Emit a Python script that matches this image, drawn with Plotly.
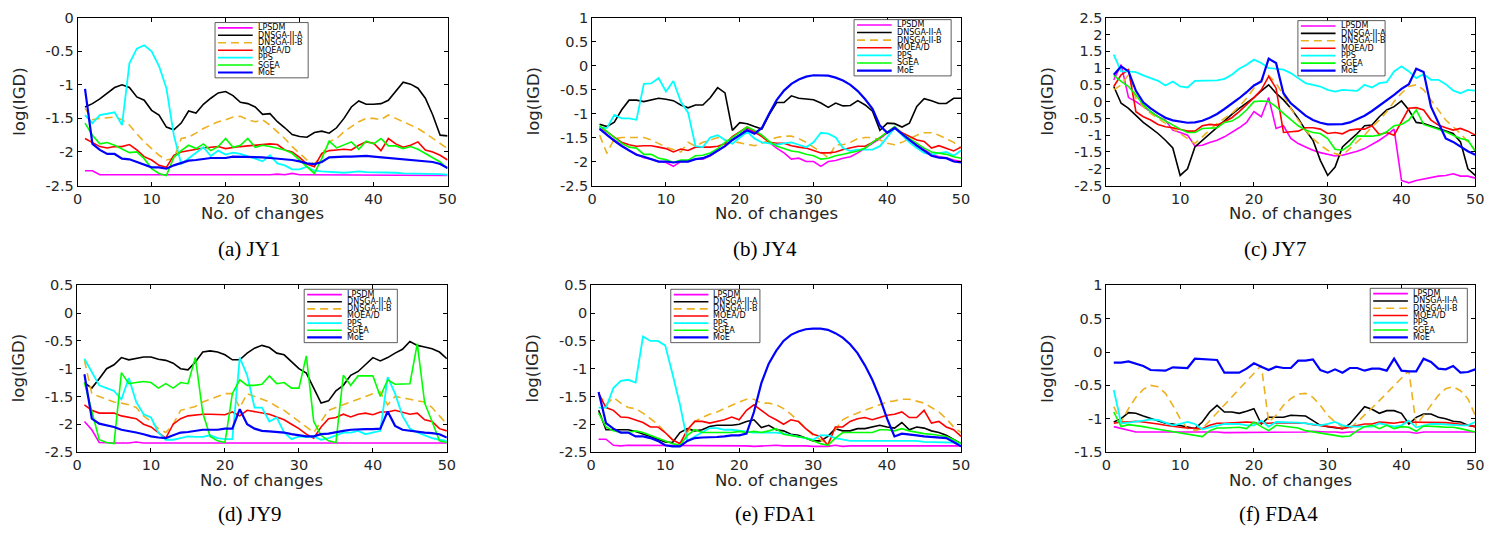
import plotly.graph_objects as go

# ---------------------------------------------------------------- data
X = list(range(1, 51))
SERIES = ["LPSDM", "DNSGA-II-A", "DNSGA-II-B", "MOEA/D", "PPS", "SGEA", "MoE"]
CAPTIONS = ["(a) JY1", "(b) JY4", "(c) JY7", "(d) JY9", "(e) FDA1", "(f) FDA4"]
X_TICKS = [0, 10, 20, 30, 40, 50]
Y_TICKS = [
    [-2.5, -2, -1.5, -1, -0.5, 0],
    [-2.5, -2, -1.5, -1, -0.5, 0, 0.5, 1],
    [-2.5, -2, -1.5, -1, -0.5, 0, 0.5, 1, 1.5, 2, 2.5],
    [-2.5, -2, -1.5, -1, -0.5, 0, 0.5],
    [-2.5, -2, -1.5, -1, -0.5, 0, 0.5],
    [-1.5, -1, -0.5, 0, 0.5, 1],
]

# JY1
JY1_LPSDM = [-2.28, -2.28, -2.34, -2.34, -2.34, -2.34, -2.34, -2.34, -2.34, -2.34,
             -2.34, -2.34, -2.35, -2.34, -2.34, -2.34, -2.34, -2.34, -2.34, -2.34,
             -2.34, -2.34, -2.34, -2.35, -2.34, -2.34, -2.33, -2.34, -2.32, -2.34,
             -2.34, -2.34, -2.34, -2.34, -2.34, -2.34, -2.34, -2.34, -2.34, -2.34,
             -2.34, -2.34, -2.34, -2.34, -2.34, -2.34, -2.34, -2.34, -2.35, -2.35]
JY1_DNSGA_A = [-1.33, -1.28, -1.21, -1.13, -1.04, -1.0, -1.04, -1.18, -1.23, -1.38,
               -1.45, -1.63, -1.67, -1.57, -1.39, -1.42, -1.29, -1.2, -1.12, -1.1,
               -1.16, -1.26, -1.28, -1.33, -1.44, -1.43, -1.55, -1.64, -1.74, -1.77,
               -1.78, -1.71, -1.69, -1.72, -1.64, -1.5, -1.33, -1.24, -1.29, -1.29,
               -1.28, -1.23, -1.1, -0.96, -0.99, -1.05, -1.2, -1.45, -1.75, -1.76]
JY1_DNSGA_B = [-1.35, -1.52, -1.5, -1.49, -1.48, -1.52, -1.6, -1.73, -1.85, -1.95,
               -2.05, -2.12, -2.1, -1.8, -1.78, -1.72, -1.65, -1.6, -1.55, -1.52,
               -1.48, -1.47, -1.52, -1.55, -1.52, -1.6, -1.7, -1.8, -1.92, -2.02,
               -2.12, -2.18, -2.05, -1.85, -1.8, -1.7, -1.62, -1.55, -1.5, -1.5,
               -1.52, -1.45, -1.5, -1.55, -1.6, -1.65, -1.72, -1.8, -1.88, -1.95]
JY1_MOEAD = [-1.8, -1.86, -1.92, -1.94, -1.92, -1.92, -1.89, -1.97, -2.07, -2.12,
             -2.2, -2.23, -2.05, -2.0, -1.98, -1.95, -1.94, -1.93, -1.92, -1.95,
             -1.93, -1.92, -1.91, -1.9, -1.9, -1.88, -1.89, -1.97, -2.0, -2.08,
             -2.18, -2.22, -2.02, -1.98, -1.97, -1.96, -1.97, -1.9, -1.85, -1.87,
             -1.98, -1.8, -1.88, -1.93, -1.9, -1.85, -1.97, -2.0, -2.05, -2.12]
JY1_PPS = [-1.45, -1.57, -1.45, -1.43, -1.41, -1.6, -0.68, -0.46, -0.41, -0.5,
           -0.72, -1.05, -1.75, -2.18, -2.1, -2.02, -1.93, -2.06, -1.98, -2.04,
           -2.01, -2.03, -2.06, -2.1, -2.14, -2.05, -2.17, -2.2, -2.26, -2.26,
           -2.22, -2.28, -2.29, -2.3, -2.31, -2.31, -2.3, -2.29, -2.3, -2.3,
           -2.3, -2.3, -2.31, -2.32, -2.32, -2.32, -2.32, -2.33, -2.33, -2.34]
JY1_SGEA = [-1.57, -1.75, -1.88, -1.86, -1.9, -1.95, -2.01, -2.0, -2.1, -2.25,
            -2.32, -2.35, -2.08, -1.98, -1.9, -1.95, -1.88, -1.98, -1.92, -1.8,
            -1.93, -1.9, -1.8, -1.93, -1.9, -1.92, -1.95, -1.97, -2.02, -2.12,
            -2.22, -2.32, -2.1, -1.84, -1.94, -1.9, -1.85, -1.96, -1.84, -1.88,
            -1.8, -1.91, -1.91, -1.95, -1.92, -1.96, -2.02, -2.08, -2.15, -2.25]
JY1_MOE = [-1.06, -1.88, -1.97, -2.03, -2.03, -2.1, -2.11, -2.15, -2.18, -2.23,
           -2.23, -2.25, -2.2, -2.16, -2.13, -2.12, -2.1, -2.09, -2.09, -2.09,
           -2.07, -2.07, -2.07, -2.08, -2.08, -2.09, -2.1, -2.1, -2.12, -2.14,
           -2.17, -2.18, -2.15, -2.08, -2.07, -2.07, -2.07, -2.06, -2.06, -2.07,
           -2.08, -2.09, -2.1, -2.12, -2.13, -2.14, -2.15, -2.15, -2.18, -2.24]

# JY4
JY4_LPSDM = [-1.3, -1.45, -1.55, -1.67, -1.77, -1.85, -1.92, -1.95, -2.0, -2.02,
             -2.1, -2.0, -2.0, -1.95, -1.95, -1.88, -1.78, -1.68, -1.55, -1.45,
             -1.3, -1.4, -1.45, -1.6, -1.72, -1.82, -1.95, -1.93, -2.0, -2.0,
             -2.1, -2.0, -1.98, -1.93, -1.9, -1.82, -1.72, -1.62, -1.52, -1.4,
             -1.3, -1.42, -1.55, -1.65, -1.75, -1.85, -1.9, -1.92, -1.97, -2.0]
JY4_DNSGA_A = [-1.22, -1.27, -1.18, -0.92, -0.72, -0.72, -0.75, -0.72, -0.68, -0.7,
               -0.73, -0.82, -0.88, -0.82, -0.82, -0.67, -0.46, -0.57, -1.35, -1.19,
               -1.21, -1.27, -1.32, -1.02, -0.77, -0.77, -0.63, -0.68, -0.69, -0.71,
               -0.78, -0.87, -0.78, -0.84, -0.83, -0.73, -0.82, -0.95, -1.35, -1.2,
               -1.21, -1.28, -1.2, -0.85, -0.69, -0.73, -0.79, -0.79, -0.68, -0.68]
JY4_DNSGA_B = [-1.45, -1.83, -1.52, -1.5, -1.5, -1.5, -1.5, -1.55, -1.62, -1.7,
               -1.75, -1.8, -1.6, -1.68, -1.6, -1.55, -1.5, -1.55, -1.58, -1.62,
               -1.65, -1.67, -1.62, -1.55, -1.5, -1.47, -1.47, -1.52, -1.6, -1.7,
               -1.8, -1.92, -1.65, -1.65, -1.6, -1.52, -1.5, -1.5, -1.55, -1.62,
               -1.65, -1.6, -1.52, -1.45, -1.4, -1.4, -1.45, -1.52, -1.6, -1.72]
JY4_MOEAD = [-1.27, -1.38, -1.5, -1.6, -1.65, -1.68, -1.67, -1.67, -1.7, -1.73,
             -1.8, -1.74, -1.77, -1.7, -1.7, -1.7, -1.68, -1.63, -1.48, -1.38,
             -1.28, -1.38, -1.48, -1.6, -1.62, -1.62, -1.67, -1.7, -1.72, -1.77,
             -1.82, -1.82, -1.8, -1.75, -1.72, -1.68, -1.68, -1.6, -1.5, -1.38,
             -1.28, -1.4, -1.48, -1.55, -1.58, -1.72, -1.67, -1.72, -1.78, -1.7]
JY4_PPS = [-1.3, -1.3, -1.03, -1.1, -1.1, -1.13, -0.38, -0.37, -0.26, -0.54,
           -0.32, -0.75, -0.98, -1.68, -1.7, -1.5, -1.45, -1.55, -1.63, -1.5,
           -1.38, -1.52, -1.6, -1.62, -1.65, -1.62, -1.6, -1.65, -1.7, -1.6,
           -1.4, -1.42, -1.5, -1.72, -1.78, -1.75, -1.75, -1.75, -1.68, -1.5,
           -1.3, -1.45, -1.6, -1.72, -1.82, -1.85, -1.82, -1.8, -1.88, -1.77]
JY4_SGEA = [-1.25, -1.38, -1.5, -1.62, -1.7, -1.72, -1.85, -1.85, -1.93, -1.96,
            -2.02, -1.97, -1.97, -1.88, -1.87, -1.82, -1.73, -1.6, -1.5, -1.38,
            -1.28, -1.35, -1.45, -1.58, -1.68, -1.73, -1.78, -1.8, -1.85, -1.88,
            -1.95, -1.93, -1.88, -1.85, -1.82, -1.78, -1.72, -1.6, -1.5, -1.38,
            -1.27, -1.42, -1.52, -1.62, -1.72, -1.8, -1.83, -1.85, -1.9, -1.93]
JY4_MOE = [-1.32, -1.45, -1.57, -1.68, -1.77, -1.86, -1.9, -1.95, -2.0, -2.0,
           -2.02, -2.0, -2.0, -1.95, -1.93, -1.87, -1.78, -1.68, -1.55, -1.45,
           -1.35, -1.42, -1.3, -1.0, -0.72, -0.52, -0.38, -0.29, -0.23, -0.2,
           -0.2, -0.21, -0.25, -0.31, -0.4, -0.53, -0.7, -0.9, -1.25, -1.4,
           -1.3, -1.43, -1.55, -1.67, -1.78, -1.88, -1.92, -1.93, -2.0, -2.02]

# JY7
JY7_LPSDM = [0.65, 1.1, 0.12, 0.0, -0.15, -0.3, -0.45, -0.55, -0.85, -0.92,
             -1.0, -1.32, -1.3, -1.22, -1.15, -1.05, -0.92, -0.78, -0.62, -0.3,
             -0.45, 0.12, -0.8, -0.72, -1.1, -1.25, -1.35, -1.45, -1.52, -1.58,
             -1.62, -1.6, -1.55, -1.48, -1.4, -1.28, -1.15, -1.0, -0.82, -2.35,
             -2.42, -2.35, -2.3, -2.25, -2.22, -2.2, -2.15, -2.22, -2.22, -2.28]
JY7_DNSGA_A = [0.45, -0.05, -0.2, -0.4, -0.62, -0.78, -0.95, -1.15, -1.38, -2.2,
               -2.0, -1.35, -1.15, -0.95, -0.75, -0.55, -0.38, -0.2, -0.05, 0.12,
               0.32, 0.5, 0.25, 0.05, -0.2, -0.5, -0.85, -1.15, -1.75, -2.2,
               -1.95, -1.35, -1.15, -0.95, -0.72, -0.7, -0.45, -0.25, -0.15, 0.02,
               -0.25, -0.62, -0.65, -0.72, -0.8, -0.88, -0.95, -1.2, -2.0, -2.2]
JY7_DNSGA_B = [0.35, 0.5, 0.8, 0.1, -0.15, -0.35, -0.5, -0.65, -0.8, -0.95,
               -1.1, -1.25, -1.05, -0.85, -0.65, -0.5, -0.35, -0.15, 0.1, 0.4,
               0.65, 0.78, 0.55, 0.2, -0.2, -0.55, -0.85, -1.1, -1.3, -1.45,
               -1.55, -1.6, -1.4, -1.2, -1.0, -0.75, -0.55, -0.3, 0.0, 0.25,
               0.45, 0.5, 0.35, 0.05, -0.25, -0.55, -0.75, -0.95, -1.2, -1.45]
JY7_MOEAD = [0.45, 0.8, 0.95, -0.3, -0.45, -0.55, -0.68, -0.75, -0.78, -0.82,
             -0.88, -0.88, -0.72, -0.68, -0.7, -0.6, -0.48, -0.3, -0.1, 0.12,
             0.35, 0.75, 0.4, -0.92, -0.9, -0.88, -0.78, -0.78, -0.82, -0.95,
             -0.92, -0.96, -0.85, -0.82, -0.82, -0.72, -0.98, -0.92, -1.0, -0.58,
             -0.2, -0.18, -0.25, -0.55, -0.7, -0.78, -0.85, -0.8, -0.88, -1.0]
JY7_PPS = [1.4, 0.9, 0.9, 0.88, 0.78, 0.7, 0.62, 0.48, 0.6, 0.45,
           0.42, 0.62, 0.63, 0.63, 0.63, 0.68, 0.8, 0.98, 1.1, 1.25,
           1.15, 1.0, 0.98, 0.95, 0.85, 0.7, 0.55, 0.5, 0.45, 0.35,
           0.3, 0.35, 0.33, 0.32, 0.5, 0.42, 0.55, 0.58, 0.9, 1.05,
           0.9, 0.7, 0.82, 0.65, 0.65, 0.52, 0.33, 0.25, 0.35, 0.33]
JY7_SGEA = [0.78, 0.6, 0.45, 0.2, -0.1, -0.3, -0.45, -0.58, -0.7, -0.82,
            -0.92, -0.92, -0.8, -0.78, -0.78, -0.62, -0.58, -0.45, -0.25, 0.0,
            0.02, 0.0, -0.15, -0.35, -0.55, -0.72, -0.85, -0.92, -0.95, -1.1,
            -1.42, -1.45, -1.3, -1.02, -1.03, -1.03, -1.0, -0.9, -0.72, -0.68,
            -0.55, -0.25, -0.68, -0.75, -0.82, -0.9, -1.0, -1.1, -1.15, -1.48]
JY7_MOE = [0.8, 1.05, 0.9, 0.32, -0.02, -0.2, -0.35, -0.48, -0.56, -0.6,
           -0.63, -0.62, -0.57, -0.48, -0.37, -0.22, -0.07, 0.1, 0.28, 0.48,
           0.6, 1.28, 1.15, 0.25, -0.05, -0.25, -0.42, -0.55, -0.63, -0.68,
           -0.68, -0.67, -0.62, -0.52, -0.42, -0.28, -0.12, 0.02, 0.2, 0.38,
           0.52, 0.98, 0.88, -0.15, -0.65, -1.1, -1.2, -1.35, -1.48, -1.58]

# JY9
JY9_LPSDM = [-1.95, -2.1, -2.33, -2.34, -2.34, -2.34, -2.34, -2.32, -2.34, -2.34,
             -2.34, -2.34, -2.34, -2.34, -2.34, -2.34, -2.34, -2.34, -2.34, -2.34,
             -2.34, -2.34, -2.34, -2.34, -2.34, -2.34, -2.34, -2.34, -2.34, -2.34,
             -2.34, -2.34, -2.34, -2.34, -2.34, -2.34, -2.34, -2.34, -2.34, -2.34,
             -2.33, -2.34, -2.34, -2.34, -2.34, -2.34, -2.34, -2.34, -2.34, -2.34]
JY9_DNSGA_A = [-1.25, -1.35, -1.18, -1.0, -0.93, -0.8, -0.84, -0.82, -0.79, -0.79,
               -0.83, -0.85, -0.9, -1.0, -1.02, -0.88, -0.7, -0.68, -0.7, -0.75,
               -0.84, -0.84, -0.72, -0.63, -0.58, -0.62, -0.72, -0.75, -0.88, -1.0,
               -1.08, -1.35, -1.62, -1.58, -1.4, -1.3, -1.12, -1.05, -0.92, -0.8,
               -0.86, -0.8, -0.72, -0.65, -0.51, -0.58, -0.61, -0.64, -0.7, -0.82]
JY9_DNSGA_B = [-0.85, -1.45, -1.5, -1.55, -1.6, -1.62, -1.65, -1.7, -1.85, -1.95,
               -2.08, -2.15, -2.0, -1.75, -1.72, -1.68, -1.6, -1.55, -1.5, -1.45,
               -1.45, -1.7, -1.45, -1.5, -1.55, -1.6, -1.68, -1.75, -1.85, -1.95,
               -2.05, -2.15, -1.95, -1.75, -1.7, -1.65, -1.6, -1.55, -1.5, -1.45,
               -1.42, -1.65, -1.5, -1.52, -1.55, -1.58, -1.6, -1.7, -1.85, -2.0]
JY9_MOEAD = [-1.65, -1.75, -1.8, -1.8, -1.8, -1.85, -1.87, -1.9, -2.0, -2.05,
             -2.15, -2.25, -2.0, -1.9, -1.85, -1.83, -1.82, -1.82, -1.82, -1.83,
             -1.78, -1.85, -1.75, -1.77, -1.8, -1.82, -1.87, -1.92, -2.0, -2.08,
             -2.18, -2.25, -2.05, -1.9, -1.88, -1.82, -1.87, -1.82, -1.8, -1.83,
             -1.78, -1.78, -1.75, -1.78, -1.82, -1.8, -1.92, -1.95, -2.08, -2.12]
JY9_PPS = [-0.82, -1.05, -1.3, -1.35, -1.4, -1.55, -1.17, -1.6, -1.82, -1.88,
           -2.15, -2.28, -2.28, -2.25, -2.22, -2.23, -2.23, -2.2, -2.25, -2.27,
           -2.27, -0.8, -1.12, -1.7, -1.7, -1.95, -1.88, -2.15, -2.27, -2.22,
           -2.23, -2.22, -2.28, -2.25, -2.2, -2.15, -2.15, -2.12, -2.18, -2.15,
           -2.12, -1.15, -1.45, -1.85, -2.08, -2.15, -2.2, -2.25, -2.28, -2.3]
JY9_SGEA = [-1.25, -1.75, -2.28, -2.33, -2.35, -1.07, -1.27, -1.25, -1.23, -1.25,
            -1.35, -1.27, -1.35, -1.25, -1.27, -0.8, -1.8, -2.22, -2.3, -2.33,
            -1.45, -1.2, -1.3, -1.3, -1.28, -1.13, -1.27, -1.25, -1.35, -1.35,
            -0.77, -1.95, -2.2, -2.3, -2.33, -1.12, -1.3, -1.13, -1.13, -1.13,
            -1.5, -1.2, -1.28, -1.28, -1.27, -0.55, -1.62, -1.95, -2.3, -2.33]
JY9_MOE = [-1.1, -1.9, -1.99, -2.02, -2.05, -2.1, -2.12, -2.15, -2.18, -2.22,
           -2.24, -2.25, -2.2, -2.15, -2.14, -2.12, -2.1, -2.1, -2.1, -2.08,
           -2.08, -1.73, -2.0, -2.08, -2.12, -2.13, -2.14, -2.15, -2.18, -2.2,
           -2.22, -2.22, -2.18, -2.17, -2.14, -2.12, -2.1, -2.09, -2.09, -2.09,
           -2.08, -1.77, -2.03, -2.1, -2.12, -2.13, -2.15, -2.16, -2.18, -2.24]

# FDA1
FDA1_LPSDM = [-2.27, -2.27, -2.38, -2.39, -2.38, -2.38, -2.39, -2.38, -2.38, -2.39,
              -2.39, -2.39, -2.39, -2.39, -2.39, -2.39, -2.39, -2.39, -2.39, -2.39,
              -2.39, -2.4, -2.39, -2.39, -2.38, -2.39, -2.39, -2.38, -2.39, -2.4,
              -2.4, -2.4, -2.38, -2.4, -2.39, -2.39, -2.39, -2.39, -2.39, -2.39,
              -2.39, -2.4, -2.39, -2.39, -2.39, -2.39, -2.39, -2.39, -2.39, -2.39]
FDA1_DNSGA_A = [-1.75, -2.1, -2.1, -2.1, -2.1, -2.13, -2.17, -2.22, -2.27, -2.32,
                -2.33, -2.15, -2.08, -2.12, -2.1, -2.04, -2.02, -2.02, -2.02, -2.0,
                -1.95, -1.92, -2.06, -2.02, -2.1, -2.12, -2.18, -2.2, -2.25, -2.3,
                -2.3, -2.22, -2.08, -2.12, -2.12, -2.08, -2.08, -2.05, -2.02, -2.05,
                -2.07, -1.97, -2.1, -2.05, -2.07, -2.12, -2.15, -2.2, -2.28, -2.35]
FDA1_DNSGA_B = [-1.45, -1.65, -1.52, -1.62, -1.7, -1.72, -1.8, -1.9, -2.0, -2.15,
                -2.28, -2.35, -2.15, -1.95, -1.88, -1.82, -1.78, -1.72, -1.65, -1.6,
                -1.55, -1.55, -1.62, -1.62, -1.65, -1.72, -1.82, -1.95, -2.08, -2.2,
                -2.28, -2.35, -2.1, -1.92, -1.85, -1.8, -1.75, -1.7, -1.65, -1.6,
                -1.58, -1.55, -1.55, -1.58, -1.62, -1.7, -1.78, -1.9, -2.05, -2.15]
FDA1_MOEAD = [-1.45, -1.7, -1.75, -1.87, -1.88, -1.92, -1.97, -2.05, -2.05, -2.15,
              -2.28, -2.35, -2.1, -1.95, -1.95, -1.98, -1.95, -1.92, -1.87, -1.92,
              -1.75, -1.65, -1.75, -1.85, -1.92, -2.0, -1.92, -1.95, -2.08, -2.18,
              -2.22, -2.38, -2.05, -2.05, -1.95, -1.9, -1.88, -1.92, -1.88, -1.84,
              -1.82, -1.78, -1.88, -1.88, -1.75, -1.98, -1.95, -2.05, -2.1, -2.22]
FDA1_PPS = [-1.7, -1.7, -1.35, -1.22, -1.2, -1.25, -0.42, -0.5, -0.5, -0.58,
            -1.1, -1.65, -2.3, -2.22, -2.15, -2.07, -2.07, -2.1, -2.1, -2.12,
            -2.14, -2.15, -2.15, -2.15, -2.15, -2.17, -2.2, -2.22, -2.25, -2.28,
            -2.2, -2.2, -2.25, -2.28, -2.3, -2.3, -2.3, -2.3, -2.3, -2.3,
            -2.3, -2.3, -2.3, -2.3, -2.32, -2.32, -2.32, -2.32, -2.33, -2.35]
FDA1_SGEA = [-1.8, -2.05, -2.12, -2.15, -2.15, -2.12, -2.15, -2.2, -2.25, -2.3,
             -2.35, -2.38, -2.2, -2.1, -2.15, -2.15, -2.15, -2.15, -2.15, -2.13,
             -2.15, -2.13, -2.15, -2.12, -2.08, -2.18, -2.2, -2.22, -2.25, -2.3,
             -2.35, -2.38, -2.25, -2.15, -2.15, -2.15, -2.15, -2.15, -2.1, -2.1,
             -2.12, -2.08, -2.12, -2.15, -2.17, -2.18, -2.2, -2.22, -2.28, -2.35]
FDA1_MOE = [-1.42, -1.98, -2.08, -2.15, -2.15, -2.22, -2.22, -2.25, -2.3, -2.38,
            -2.4, -2.4, -2.3, -2.25, -2.24, -2.24, -2.23, -2.22, -2.2, -2.2,
            -2.17, -1.78, -1.26, -0.91, -0.68, -0.5, -0.39, -0.33, -0.29, -0.28,
            -0.28, -0.3, -0.36, -0.44, -0.56, -0.72, -0.94, -1.2, -1.52, -1.9,
            -2.22, -2.17, -2.18, -2.2, -2.22, -2.23, -2.23, -2.25, -2.32, -2.4]

# FDA4
FDA4_LPSDM = [-1.12, -1.15, -1.18, -1.2, -1.2, -1.2, -1.2, -1.2, -1.2, -1.19,
              -1.2, -1.2, -1.2, -1.2, -1.2, -1.21, -1.21, -1.21, -1.2, -1.2,
              -1.2, -1.21, -1.2, -1.2, -1.2, -1.21, -1.2, -1.19, -1.2, -1.2,
              -1.2, -1.21, -1.2, -1.2, -1.21, -1.2, -1.2, -1.2, -1.2, -1.2,
              -1.2, -1.22, -1.2, -1.2, -1.2, -1.2, -1.2, -1.2, -1.19, -1.2]
FDA4_DNSGA_A = [-1.05, -1.0, -0.91, -0.92, -0.96, -1.0, -1.03, -1.07, -1.08, -1.1,
                -1.12, -1.15, -1.05, -0.9, -0.8, -0.9, -0.9, -0.92, -0.89, -0.85,
                -1.08, -0.98, -0.98, -0.98, -0.95, -0.96, -0.96, -1.03, -1.1, -1.12,
                -1.14, -1.15, -1.08, -0.95, -0.82, -0.86, -0.92, -0.88, -0.88, -0.92,
                -1.08, -0.98, -0.93, -0.93, -0.98, -1.0, -1.04, -1.05, -1.1, -1.12]
FDA4_DNSGA_B = [-0.82, -1.05, -0.85, -0.68, -0.56, -0.5, -0.52, -0.62, -0.8, -1.0,
                -1.15, -1.18, -1.15, -1.03, -0.91, -0.8, -0.68, -0.56, -0.44, -0.32,
                -0.2, -1.05, -0.95, -0.8, -0.7, -0.63, -0.62, -0.68, -0.8, -0.95,
                -1.05, -1.12, -1.15, -1.05, -0.95, -0.84, -0.73, -0.62, -0.5, -0.39,
                -0.28, -1.1, -0.95, -0.8, -0.65, -0.55, -0.52, -0.58, -0.7, -0.95]
FDA4_MOEAD = [-1.07, -1.05, -1.05, -1.04, -1.05, -1.06, -1.08, -1.1, -1.12, -1.13,
              -1.14, -1.15, -1.15, -1.1, -1.07, -1.07, -1.06, -1.05, -1.05, -1.06,
              -1.07, -1.07, -1.06, -1.06, -1.06, -1.06, -1.07, -1.09, -1.1, -1.12,
              -1.13, -1.15, -1.13, -1.1, -1.08, -1.08, -1.05, -1.06, -1.07, -1.05,
              -1.05, -1.06, -1.05, -1.05, -1.05, -1.06, -1.07, -1.08, -1.1, -1.12]
FDA4_PPS = [-0.57, -1.07, -1.06, -1.05, -1.03, -1.01, -1.02, -1.06, -1.1, -1.08,
            -1.05, -1.08, -1.16, -1.13, -1.1, -1.08, -1.08, -1.08, -1.1, -1.1,
            -1.03, -1.12, -1.05, -1.05, -1.05, -1.06, -1.07, -1.09, -1.1, -1.08,
            -1.05, -1.1, -1.12, -1.12, -1.12, -1.12, -1.07, -1.1, -1.12, -1.1,
            -1.03, -1.13, -1.1, -1.08, -1.08, -1.09, -1.1, -1.1, -1.1, -1.05]
FDA4_SGEA = [-0.9, -1.12, -1.09, -1.1, -1.12, -1.14, -1.16, -1.18, -1.2, -1.22,
             -1.24, -1.25, -1.27, -1.18, -1.14, -1.14, -1.13, -1.13, -1.15, -1.05,
             -1.12, -1.18, -1.1, -1.11, -1.12, -1.14, -1.18, -1.2, -1.22, -1.23,
             -1.25, -1.27, -1.26, -1.18, -1.12, -1.1, -1.15, -1.1, -1.15, -1.12,
             -1.13, -1.19, -1.11, -1.11, -1.12, -1.13, -1.13, -1.15, -1.18, -1.2]
FDA4_MOE = [-0.16, -0.16, -0.14, -0.18, -0.21, -0.27, -0.28, -0.28, -0.23, -0.24,
            -0.24, -0.1, -0.11, -0.12, -0.12, -0.31, -0.31, -0.31, -0.25, -0.17,
            -0.22, -0.27, -0.22, -0.24, -0.24, -0.13, -0.13, -0.11, -0.27, -0.31,
            -0.26, -0.31, -0.24, -0.24, -0.28, -0.25, -0.25, -0.28, -0.1, -0.28,
            -0.29, -0.29, -0.1, -0.15, -0.25, -0.26, -0.21, -0.31, -0.3, -0.26]

PANEL_DATA = [
    [JY1_LPSDM, JY1_DNSGA_A, JY1_DNSGA_B, JY1_MOEAD, JY1_PPS, JY1_SGEA, JY1_MOE],
    [JY4_LPSDM, JY4_DNSGA_A, JY4_DNSGA_B, JY4_MOEAD, JY4_PPS, JY4_SGEA, JY4_MOE],
    [JY7_LPSDM, JY7_DNSGA_A, JY7_DNSGA_B, JY7_MOEAD, JY7_PPS, JY7_SGEA, JY7_MOE],
    [JY9_LPSDM, JY9_DNSGA_A, JY9_DNSGA_B, JY9_MOEAD, JY9_PPS, JY9_SGEA, JY9_MOE],
    [FDA1_LPSDM, FDA1_DNSGA_A, FDA1_DNSGA_B, FDA1_MOEAD, FDA1_PPS, FDA1_SGEA, FDA1_MOE],
    [FDA4_LPSDM, FDA4_DNSGA_A, FDA4_DNSGA_B, FDA4_MOEAD, FDA4_PPS, FDA4_SGEA, FDA4_MOE],
]

# ---------------------------------------------------------------- styling
W, H = 1510, 533
COLORS = ["#FF00FF", "#000000", "#EDB120", "#FF0000", "#00FFFF", "#00FF00", "#0000FF"]
DASHES = ["solid", "solid", "8px,5px", "solid", "solid", "solid", "solid"]
WIDTHS = [1.6, 1.6, 1.6, 1.6, 1.8, 1.6, 2.2]
Y_RANGES = [(-2.5, 0), (-2.5, 1), (-2.5, 2.5), (-2.5, 0.5), (-2.5, 0.5), (-1.5, 1)]

# plot boxes in pixels: left, right, top, bottom
BOXES = [(73.3, 446.7, 10, 183), (592.7, 965, 10, 183), (1111.7, 1484, 10, 183),
         (72.7, 446, 286, 457.7), (591.7, 965, 286, 457.7), (1111.7, 1484, 286, 457.7)]
# legend boxes in pixels: left, top, right, bottom
LEGENDS = [(212, 15, 306, 72), (857, 12, 955, 70), (1305, 13, 1393, 70),
           (302, 290, 396, 345), (672, 290, 762, 345), (1378, 289, 1476, 345)]
CAPTION_POS = [(246, 248), (767, 248), (1282, 248), (247, 522), (778, 522), (1285, 522)]

SANS = "DejaVu Sans"
SERIF = "Liberation Serif"
TEXT = "#262626"


def fx(x):
    return x / W


def fy(y):
    return 1 - y / H


def fmt(v):
    return "%g" % v


fig = go.Figure()
shapes = []
annotations = []

for p in range(6):
    ax = "" if p == 0 else str(p + 1)
    left, right, top, bottom = BOXES[p]
    for s in range(7):
        fig.add_trace(go.Scatter(
            x=X, y=PANEL_DATA[p][s], mode="lines", name=SERIES[s],
            line=dict(color=COLORS[s], width=WIDTHS[s], dash=DASHES[s]),
            xaxis="x" + ax, yaxis="y" + ax, showlegend=False, hoverinfo="skip",
        ))
    common = dict(showline=True, linecolor="#000000", linewidth=1, mirror="ticks",
                  ticks="inside", ticklen=4, tickwidth=1, tickcolor="#000000",
                  showgrid=False, zeroline=False,
                  tickfont=dict(family=SANS, size=14.5, color=TEXT))
    fig.update_layout(**{
        "xaxis" + ax: dict(domain=[fx(left), fx(right)], range=[0, 50],
                           anchor="y" + ax, tickvals=X_TICKS,
                           ticktext=[fmt(v) for v in X_TICKS], **common),
        "yaxis" + ax: dict(domain=[fy(bottom), fy(top)], range=list(Y_RANGES[p]),
                           anchor="x" + ax, tickvals=Y_TICKS[p],
                           ticktext=[fmt(v) for v in Y_TICKS[p]], **common),
    })

    cx = (left + right) / 2
    # x-axis title
    annotations.append(dict(x=fx(cx), y=fy(bottom + 29), xref="paper", yref="paper",
                            text="No. of changes", showarrow=False,
                            font=dict(family=SANS, size=16.5, color=TEXT),
                            xanchor="center", yanchor="middle"))
    # y-axis title
    annotations.append(dict(x=fx(left - 59), y=fy((top + bottom) / 2), xref="paper",
                            yref="paper", text="log(IGD)", showarrow=False, textangle=-90,
                            font=dict(family=SANS, size=16.5, color=TEXT),
                            xanchor="center", yanchor="middle"))
    # caption
    capx, capy = CAPTION_POS[p]
    annotations.append(dict(x=fx(capx), y=fy(capy), xref="paper", yref="paper",
                            text=CAPTIONS[p], showarrow=False,
                            font=dict(family=SERIF, size=21, color="#000000"),
                            xanchor="center", yanchor="middle"))

    # legend box
    l0, t0, r0, b0 = LEGENDS[p]
    shapes.append(dict(type="rect", xref="paper", yref="paper",
                       x0=fx(l0), x1=fx(r0), y0=fy(b0), y1=fy(t0),
                       line=dict(color="#333333", width=0.8), fillcolor="#FFFFFF",
                       layer="above"))
    step = (b0 - t0 - 11) / 6
    for s in range(7):
        ry = t0 + 5.5 + s * step
        shapes.append(dict(type="line", xref="paper", yref="paper",
                           x0=fx(l0 + 3), x1=fx(l0 + 38), y0=fy(ry), y1=fy(ry),
                           line=dict(color=COLORS[s], width=WIDTHS[s],
                                     dash=DASHES[s]),
                           layer="above"))
        annotations.append(dict(x=fx(l0 + 41), y=fy(ry), xref="paper", yref="paper",
                                text=SERIES[s], showarrow=False,
                                font=dict(family=SANS, size=8, color="#000000"),
                                xanchor="left", yanchor="middle"))

fig.update_layout(
    width=W, height=H, margin=dict(l=0, r=0, t=0, b=0),
    paper_bgcolor="#FFFFFF", plot_bgcolor="#FFFFFF",
    showlegend=False, shapes=shapes, annotations=annotations,
)

fig.write_html("out.html", config={"displayModeBar": False})
